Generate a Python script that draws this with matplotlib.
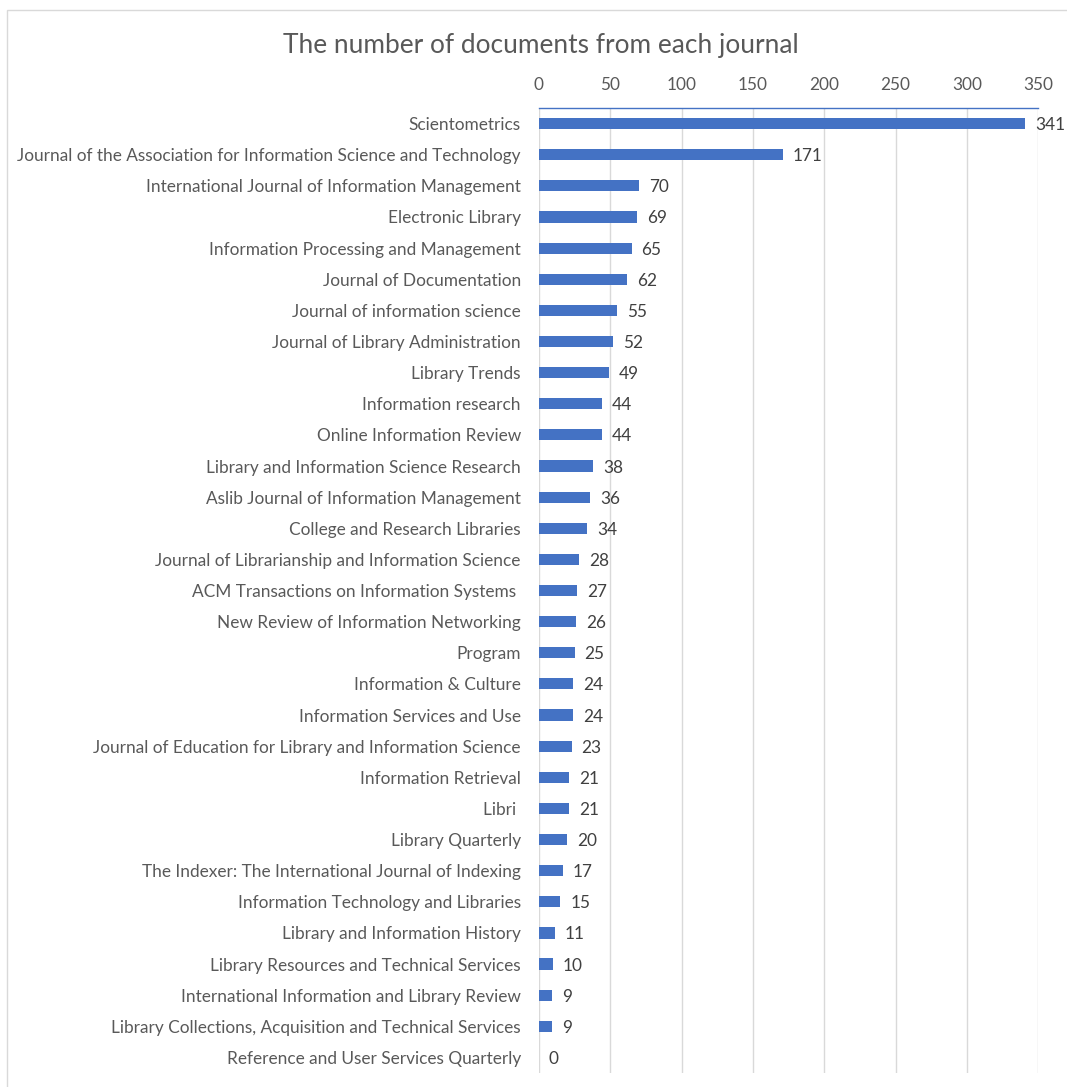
import matplotlib.pyplot as plt
from matplotlib.patches import Rectangle

plt.rcParams['font.family'] = ['Lato', 'DejaVu Sans']

journals = [
    "Scientometrics",
    "Journal of the Association for Information Science and Technology",
    "International Journal of Information Management",
    "Electronic Library",
    "Information Processing and Management",
    "Journal of Documentation",
    "Journal of information science",
    "Journal of Library Administration",
    "Library Trends",
    "Information research",
    "Online Information Review",
    "Library and Information Science Research",
    "Aslib Journal of Information Management",
    "College and Research Libraries",
    "Journal of Librarianship and Information Science",
    "ACM Transactions on Information Systems ",
    "New Review of Information Networking",
    "Program",
    "Information & Culture",
    "Information Services and Use",
    "Journal of Education for Library and Information Science",
    "Information Retrieval",
    "Libri ",
    "Library Quarterly",
    "The Indexer: The International Journal of Indexing",
    "Information Technology and Libraries",
    "Library and Information History",
    "Library Resources and Technical Services",
    "International Information and Library Review",
    "Library Collections, Acquisition and Technical Services",
    "Reference and User Services Quarterly",
]
counts = [341, 171, 70, 69, 65, 62, 55, 52, 49, 44, 44, 38, 36, 34, 28, 27,
          26, 25, 24, 24, 23, 21, 21, 20, 17, 15, 11, 10, 9, 9, 0]
x_ticks = [0, 50, 100, 150, 200, 250, 300, 350]

bar_color = '#4472C4'
text_color = '#595959'
fs = 12.4

fig = plt.figure(figsize=(10.67, 10.87), dpi=100)
ax = fig.add_axes([0.505, 0.0129, 0.468, 0.8877])

ypos = list(range(len(journals)))
ax.barh(ypos, counts, height=0.36, color=bar_color, zorder=3)

# data labels
for y, v in zip(ypos, counts):
    ax.text(v + 7, y, str(v), va='center_baseline', ha='left', fontsize=fs,
            color='#404040', zorder=4)

ax.set_ylim(len(journals) - 0.5, -0.5)
ax.set_xlim(0, 350)
ax.set_yticks(ypos)
ax.set_yticklabels(journals, fontsize=fs, color=text_color)
ax.set_xticks(x_ticks)
ax.set_xticklabels([str(t) for t in x_ticks], fontsize=fs, color=text_color)
ax.xaxis.tick_top()
ax.tick_params(axis='x', length=0, pad=10.5)
ax.tick_params(axis='y', length=0, pad=13)

ax.grid(axis='x', color='#D9D9D9', linewidth=1, zorder=0)
for side in ['left', 'right', 'bottom']:
    ax.spines[side].set_visible(False)
ax.spines['top'].set_color(bar_color)
ax.spines['top'].set_linewidth(1)

fig.text(0.507, 0.958, 'The number of documents from each journal',
         ha='center', va='center', fontsize=18.9, color=text_color)

# outer chart border
fig.patches.append(Rectangle((0.0066, -0.01), 1.1, 1.0 - 0.0092 + 0.01,
                             transform=fig.transFigure, fill=False,
                             edgecolor='#D9D9D9', linewidth=1))

fig.savefig('out.png', dpi=100)
